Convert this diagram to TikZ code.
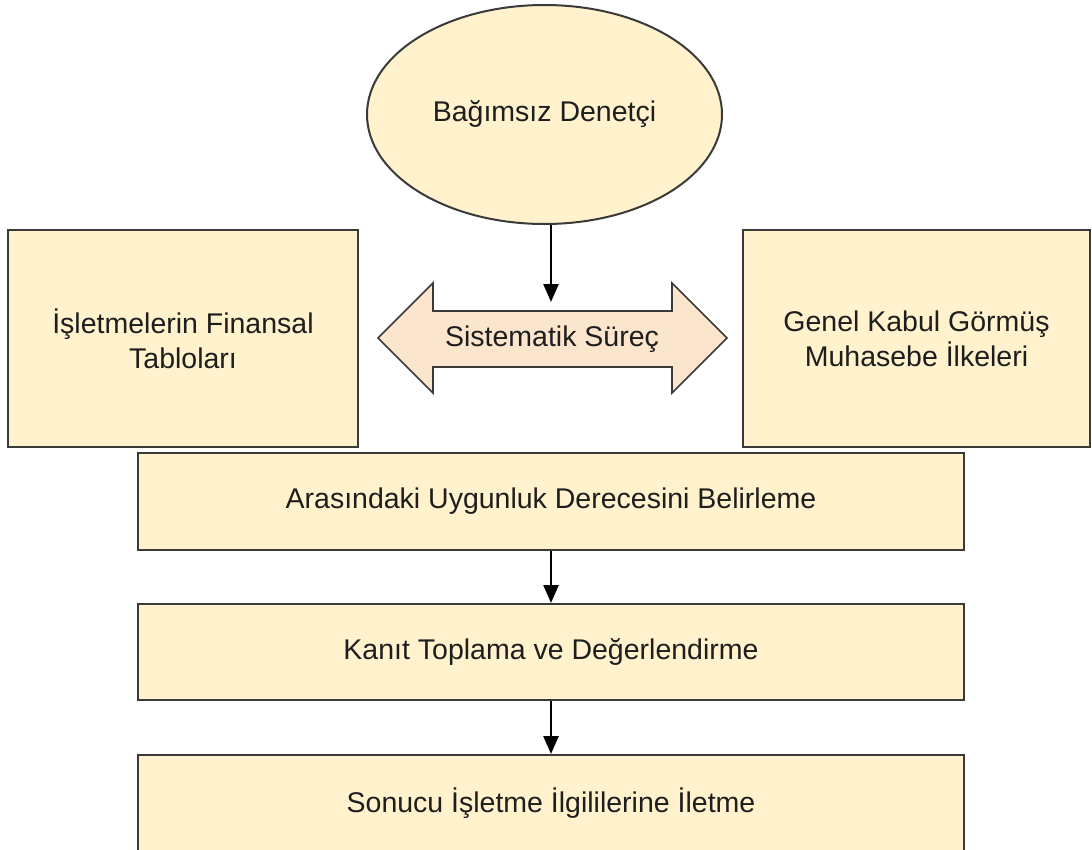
\documentclass[tikz,border=0pt]{standalone}
\usepackage{fontspec}
\setmainfont{Liberation Sans}
\usetikzlibrary{arrows.meta,shapes.geometric}
\definecolor{boxfill}{HTML}{FFF2CC}
\definecolor{arrfill}{HTML}{FCE5CD}
\definecolor{edgec}{HTML}{3A3A3A}
\definecolor{txtc}{HTML}{1E1E1E}
\begin{document}
\begin{tikzpicture}[x=1pt,y=-1pt,
  box/.style={draw=edgec,fill=boxfill,line width=2pt,rectangle,inner sep=0pt,align=center,
    font=\fontsize{28.5}{35}\selectfont,text=txtc},
  ovalbox/.style={box,ellipse},
  flow/.style={-{Triangle[length=18pt,width=15pt]},line width=2.5pt,draw=black},
  lbl/.style={font=\fontsize{28.5}{35}\selectfont,text=txtc,inner sep=0pt}]
\useasboundingbox (0,0) rectangle (1092,849);
\clip (0,0) rectangle (1092,849);
\fill[white] (0,0) rectangle (1092,849);

\node[ovalbox,minimum width=355pt,minimum height=219pt] (den) at (544.5,114.5) {Bağımsız Denetçi};

\node[box,minimum width=350pt,minimum height=217pt] (fin) at (183,338.5) {İşletmelerin Finansal\\Tabloları};
\node[box,minimum width=347pt,minimum height=217pt] (gkg) at (916.5,338.5) {Genel Kabul Görmüş\\Muhasebe İlkeleri};

\draw[draw=edgec,fill=arrfill,line width=1.6pt,line join=miter]
  (378,338) -- (433,283) -- (433,311) -- (672,311) -- (672,283) -- (727,338)
  -- (672,393) -- (672,367) -- (433,367) -- (433,393) -- cycle;
\node[lbl] (sis) at (552,339) {Sistematik Süreç};
\coordinate (sistop) at (551,302);

\node[box,minimum width=826pt,minimum height=97pt] (ara) at (551,501.5) {Arasındaki Uygunluk Derecesini Belirleme};
\node[box,minimum width=826pt,minimum height=96pt] (kan) at (551,652) {Kanıt Toplama ve Değerlendirme};
\node[box,minimum width=826pt,minimum height=97pt] (son) at (551,803.5) {Sonucu İşletme İlgililerine İletme};

\draw[flow] (den.south -| sistop) -- (sistop);
\draw[flow] (ara.south) -- (kan.north);
\draw[flow] (kan.south) -- (son.north);
\end{tikzpicture}
\end{document}
